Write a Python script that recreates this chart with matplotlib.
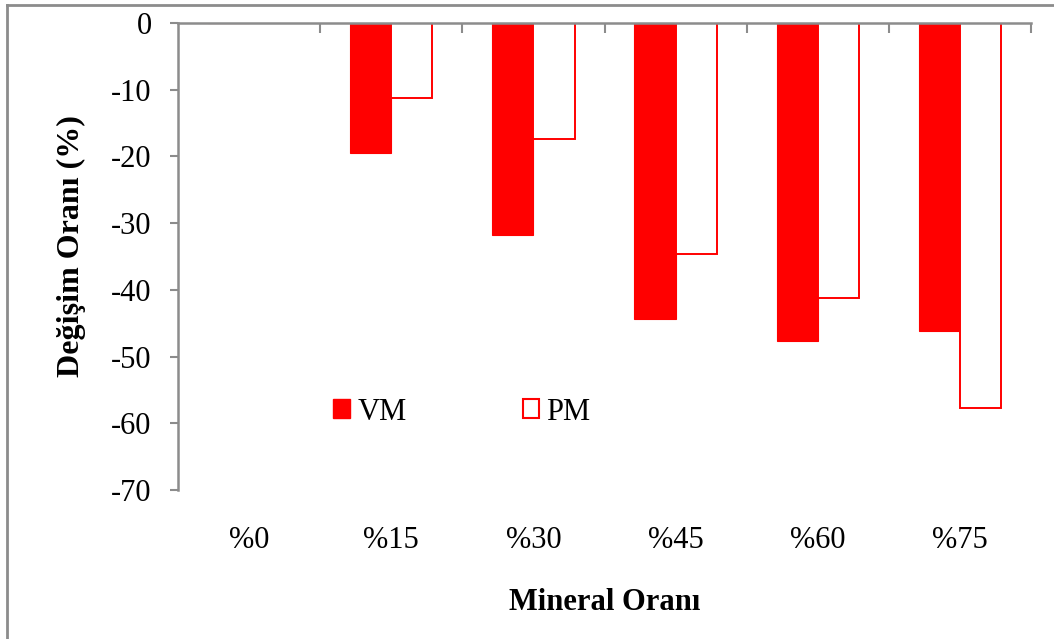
import matplotlib
matplotlib.use("Agg")
import matplotlib.pyplot as plt
from matplotlib.lines import Line2D
from matplotlib.patches import Patch
import numpy as np

categories = ["%0", "%15", "%30", "%45", "%60", "%75"]
vm_values = [0.0, -19.5, -31.8, -44.3, -47.6, -46.2]
pm_values = [0.0, -11.2, -17.4, -34.6, -41.2, -57.7]
y_ticks = [0, -10, -20, -30, -40, -50, -60, -70]

plt.rcParams["font.family"] = ["Liberation Serif", "DejaVu Serif"]

W, H = 1054, 639
fig = plt.figure(figsize=(W / 100, H / 100), dpi=100)
ax = fig.add_axes([178 / W, 1 - 490 / H, (1031 - 178) / W, (490 - 23) / H])

red = "#ff0000"
grey = "#8c8c8c"
fs = 22
x = np.arange(len(categories))
bw = 0.29

ax.bar(x - bw / 2, vm_values, width=bw, color=red, edgecolor=red, linewidth=0.8)
ax.bar(x + bw / 2, pm_values, width=bw, facecolor="white", edgecolor=red, linewidth=1.4)

ax.set_xlim(-0.5, len(categories) - 0.5)
ax.set_ylim(-70, 0)

for side in ("bottom", "right"):
    ax.spines[side].set_visible(False)
for side in ("top", "left"):
    ax.spines[side].set_color(grey)
    ax.spines[side].set_linewidth(1.8)
    ax.spines[side].set_zorder(5)

ax.set_yticks(y_ticks)
ax.set_yticklabels([str(v) for v in y_ticks], fontsize=fs)
ax.tick_params(axis="y", direction="out", length=6, width=1.5, color=grey, pad=13)

# category boundary ticks on the zero line, category names below the plot
ax.set_xticks(x)
ax.set_xticklabels(categories, fontsize=fs)
ax.tick_params(axis="x", which="major", length=0, pad=26, bottom=True, top=False)
ax.set_xticks(np.arange(0.5, len(categories)), minor=True)
ax.tick_params(axis="x", which="minor", direction="in", length=7, width=1.5,
               color=grey, top=True, bottom=False)

ax.set_ylabel("Değişim Oranı (%)", fontsize=23, fontweight="bold", labelpad=18)
ax.yaxis.label.set_y(0.522)
ax.set_xlabel("Mineral Oranı", fontsize=fs, fontweight="bold", labelpad=24)

handles = [Patch(facecolor=red, edgecolor=red),
           Patch(facecolor="white", edgecolor=red, linewidth=1.5)]
fig.legend(handles, ["VM", "PM"], loc="center",
           bbox_to_anchor=(462 / W, 1 - 412 / H), ncol=2, frameon=False,
           fontsize=fs, handlelength=0.55, handleheight=0.55,
           handletextpad=0.23, columnspacing=3.8)

# outer chart frame
fig.add_artist(Line2D([7 / W, 7 / W], [0, 1 - 5 / H], transform=fig.transFigure,
                      color=grey, linewidth=2))
fig.add_artist(Line2D([7 / W, 1], [1 - 5 / H, 1 - 5 / H], transform=fig.transFigure,
                      color=grey, linewidth=2))

fig.savefig("out.png", dpi=100)
